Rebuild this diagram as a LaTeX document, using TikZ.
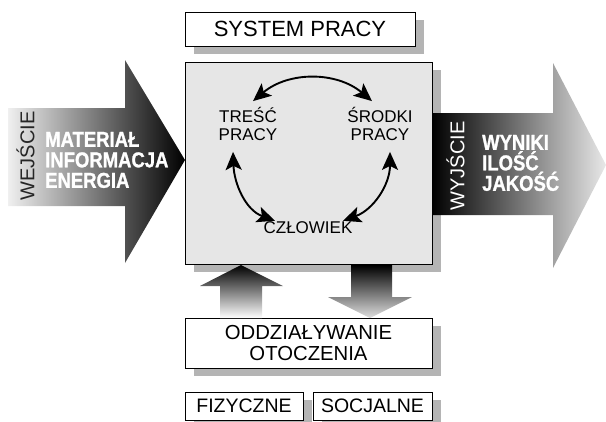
\documentclass[tikz,border=0pt]{standalone}
\usepackage{fontspec}
\setmainfont{Liberation Sans}
\newfontfamily\heavyfont[FakeStretch=0.86,FakeBold=1.2]{Liberation Sans Bold}
\usetikzlibrary{arrows.meta,shadows}

\definecolor{shadowgray}{HTML}{B4B4B4}
\definecolor{boxgray}{HTML}{E6E6E6}

\tikzset{
  sysbox/.style={draw=black, line width=0.9pt, fill=white, align=center,
    inner sep=0pt, font=\fontsize{19.5}{20.5}\selectfont},
  boxshadow/.style={general shadow={shadow xshift=9pt, shadow yshift=-8pt,
    fill=shadowgray}},
  cyclabel/.style={align=center, inner sep=1pt, font=\fontsize{17}{18}\selectfont},
  cycarrow/.style={line width=1.9pt,
    {Stealth[length=18pt,width=16pt,inset=4pt]}-{Stealth[length=18pt,width=16pt,inset=4pt]}},
  flowtext/.style={text=white, align=left, inner sep=0pt,
    font=\heavyfont\fontsize{21.5}{20.5}\selectfont},
  sidetext/.style={rotate=90, inner sep=0pt, font=\fontsize{20}{22}\selectfont}
}

\begin{document}
\begin{tikzpicture}[x=1pt, y=-1pt]
  \useasboundingbox (0,0) rectangle (606,421);

  % naglowek
  \node[sysbox, boxshadow, minimum width=230pt, minimum height=34pt,
    font=\fontsize{22}{24}\selectfont] (system) at (300,29) {SYSTEM PRACY};

  % system pracy
  \node[sysbox, boxshadow, fill=boxgray, minimum width=247pt, minimum height=202pt]
    (praca) at (308.5,163) {};

  % wejscie
  \shade[left color=gray!12, right color=black]
    (8,108) -- (125,108) -- (125,60) -- (185,160) -- (125,263)
    -- (125,206) -- (8,206) -- cycle;
  \node[sidetext, text=black!85] (wejscie) at (25.5,156) {WEJŚCIE};
  \node[flowtext, anchor=west] (wejtxt) at (45,160) {MATERIAŁ\\INFORMACJA\\ENERGIA};

  % wyjscie
  \shade[left color=black, right color=gray!18]
    (432,113) -- (553,113) -- (553,63) -- (606,165) -- (553,268)
    -- (553,215) -- (432,215) -- cycle;
  \node[sidetext, text=white] (wyjscie) at (455.5,166) {WYJŚCIE};
  \node[flowtext, anchor=west] (wyjtxt) at (482,163) {WYNIKI\\ILOŚĆ\\JAKOŚĆ};

  % elementy systemu
  \node[cyclabel] (tresc) at (248,124) {TREŚĆ\\PRACY};
  \node[cyclabel] (srodki) at (380,124) {ŚRODKI\\PRACY};
  \node[cyclabel] (czlowiek) at (308,228) {CZŁOWIEK};

  \draw[cycarrow] ([xshift=5pt,yshift=5pt]tresc.north) to[bend left=40]
    ([xshift=-8pt,yshift=5pt]srodki.north);
  \draw[cycarrow] ([shift={(-15pt,-10pt)}]tresc.south) to[out=-88, in=160]
    ([xshift=-33pt]czlowiek.north);
  \draw[cycarrow] ([shift={(10pt,-10pt)}]srodki.south) to[out=-90, in=20]
    ([xshift=35pt]czlowiek.north);

  % otoczenie
  \node[sysbox, boxshadow, minimum width=247pt, minimum height=50pt,
    font=\fontsize{20.3}{20.5}\selectfont] (otoczenie)
    at (308.5,343) {ODDZIAŁYWANIE\\OTOCZENIA};
  \node[sysbox, boxshadow, minimum width=118pt, minimum height=28pt] (fizyczne)
    at (244,406) {FIZYCZNE};
  \node[sysbox, boxshadow, minimum width=119pt, minimum height=28pt] (socjalne)
    at (372.5,406) {SOCJALNE};

  % oddzialywania
  \shade[top color=black, bottom color=white]
    (220,318) -- (220,286) -- (200,286) -- (241,265) -- (283,286)
    -- (262,286) -- (262,318) -- cycle;
  \shade[top color=black, bottom color=gray!25]
    (351,265) -- (351,297) -- (328,297) -- (370,318) -- (412,297)
    -- (392,297) -- (392,265) -- cycle;
\end{tikzpicture}
\end{document}
